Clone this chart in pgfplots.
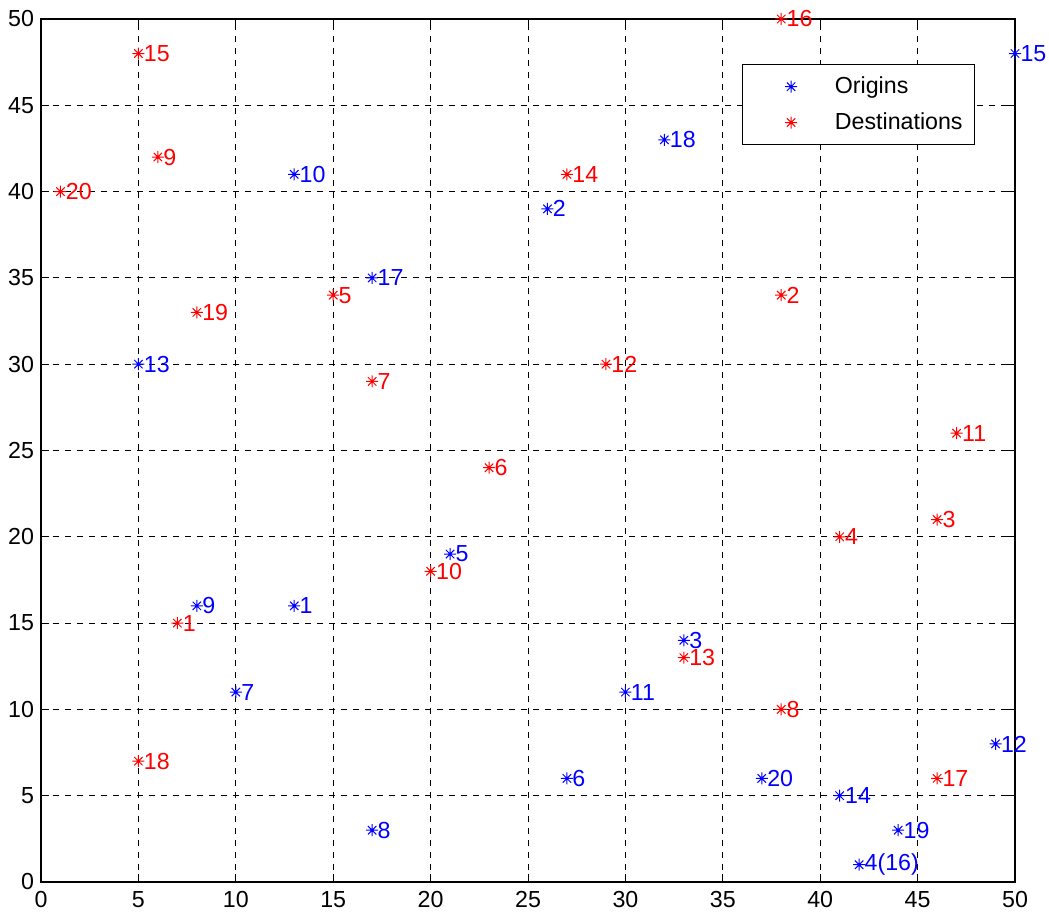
\documentclass[border=0pt]{standalone}
\usepackage{pgfplots}
\pgfplotsset{compat=1.18}
\usetikzlibrary{calc}
\usepackage{fontspec}
\setmainfont{Liberation Sans}
\pgfdeclareplotmark{mstar}{%
  \pgfpathmoveto{\pgfqpoint{-\pgfplotmarksize}{0pt}}\pgfpathlineto{\pgfqpoint{\pgfplotmarksize}{0pt}}%
  \pgfpathmoveto{\pgfqpoint{0pt}{-\pgfplotmarksize}}\pgfpathlineto{\pgfqpoint{0pt}{\pgfplotmarksize}}%
  \pgfpathmoveto{\pgfqpoint{-0.7\pgfplotmarksize}{-0.7\pgfplotmarksize}}\pgfpathlineto{\pgfqpoint{0.7\pgfplotmarksize}{0.7\pgfplotmarksize}}%
  \pgfpathmoveto{\pgfqpoint{-0.7\pgfplotmarksize}{0.7\pgfplotmarksize}}\pgfpathlineto{\pgfqpoint{0.7\pgfplotmarksize}{-0.7\pgfplotmarksize}}%
  \pgfusepathqstroke}
\pgfplotstableread{
x y label
13 16 1
26 39 2
33 14 3
42 1 4(16)
21 19 5
27 6 6
10 11 7
17 3 8
8 16 9
13 41 10
30 11 11
49 8 12
5 30 13
41 5 14
50 48 15
17 35 17
32 43 18
44 3 19
37 6 20
}\origins
\pgfplotstableread{
x y label
7 15 1
38 34 2
46 21 3
41 20 4
15 34 5
23 24 6
17 29 7
38 10 8
6 42 9
20 18 10
47 26 11
29 30 12
33 13 13
27 41 14
5 48 15
38 50 16
46 6 17
5 7 18
8 33 19
1 40 20
}\destinations
\begin{document}
\begin{tikzpicture}
\begin{axis}[
  scale only axis,
  width=487pt, height=431.5pt,
  xmin=0, xmax=50, ymin=0, ymax=50,
  xtick={0,5,...,50}, ytick={0,5,...,50},
  tick align=inside,
  major tick length=4pt,
  tick style={black, line width=0.5pt},
  axis line style={black, line width=0.6pt},
  grid=major,
  major grid style={black, dashed, dash pattern=on 3pt off 3pt, line width=0.4pt},
  /pgf/number format/assume math mode=true,
  tick label style={font=\fontsize{11.6}{13}\selectfont, black},
  xticklabel style={yshift=-1pt},
  clip=false,
  mark size=3pt,
  legend cell align=left,
  legend style={at={(0.959,0.9475)}, anchor=north east, draw=black, line width=0.5pt,
    font=\fontsize{11.6}{13}\selectfont, row sep=4pt, inner xsep=4pt, inner ysep=4pt},
  legend image code/.code={\path[draw=none] (0,0) -- (1.42cm,0); \draw[#1, only marks] plot coordinates {(0.72cm,0cm)};},
  nodes near coords,
  point meta=explicit symbolic,
]
\addplot[only marks, mark=mstar, blue, line width=0.5pt,
  nodes near coords style={anchor=west, inner sep=0pt, xshift=2.5pt, text=blue, font=\fontsize{11.6}{13}\selectfont}]
  table[x=x, y=y, meta=label] {\origins};
\addlegendentry{Origins}
\addplot[only marks, mark=mstar, red, line width=0.5pt,
  nodes near coords style={anchor=west, inner sep=0pt, xshift=2.5pt, text=red, font=\fontsize{11.6}{13}\selectfont}]
  table[x=x, y=y, meta=label] {\destinations};
\addlegendentry{Destinations}
\end{axis}
\useasboundingbox ($(current axis.south west)+(-20.5pt,-18pt)$) rectangle ($(current axis.north east)+(17pt,9.5pt)$);
\end{tikzpicture}
\end{document}
